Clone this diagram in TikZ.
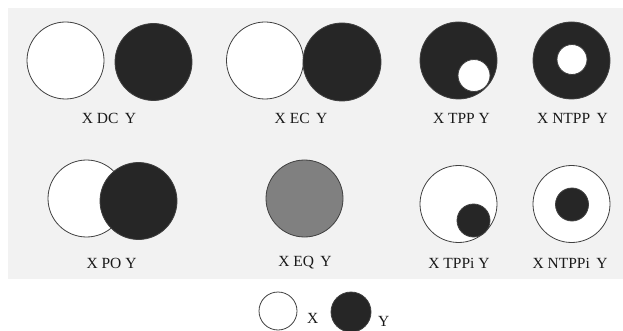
\documentclass[tikz,border=0pt]{standalone}
\usepackage{fontspec}
\setmainfont{Liberation Serif}
\begin{document}
\begin{tikzpicture}[x=1pt,y=-1pt,
  region/.style={circle,draw=black!75,line width=0.8pt,inner sep=0pt,minimum size=#1},
  regionX/.style={region=#1,fill=white},
  regionY/.style={region=#1,fill=black!85},
  regionEq/.style={region=#1,fill=black!50},
  lbl/.style={font=\fontsize{15.5}{17}\selectfont,inner sep=0pt,text=black!90}]
\useasboundingbox (0,0) rectangle (623,331);
\fill[black!5] (8,8) rectangle (623,279);

% row 1
\node[regionX=77] (dcx) at (65.5,60.5) {};
\node[regionY=77] (dcy) at (153.5,62) {};
\node[lbl] (dcl) at (109,118) {X DC\, Y};

\node[regionX=77] (ecx) at (265,60.5) {};
\node[regionY=78] (ecy) at (342,62) {};
\node[lbl] (ecl) at (301,118) {X EC\, Y};

\node[regionY=77] (tppy) at (458.5,60.5) {};
\node[regionX=32] (tppx) at (474,75.5) {};
\node[lbl] (tppl) at (461.5,118) {X TPP Y};

\node[regionY=77] (ntppy) at (571.5,60.5) {};
\node[regionX=30] (ntppx) at (572,59.5) {};
\node[lbl] (ntppl) at (572.5,118) {X NTPP\, Y};

% row 2
\node[regionX=77] (pox) at (86.5,198.5) {};
\node[regionY=77] (poy) at (138.5,201) {};
\node[lbl] (pol) at (111.5,263) {X PO Y};

\node[regionEq=77] (eq) at (304.5,198.5) {};
\node[lbl] (eql) at (305,263) {X EQ\, Y};

\node[regionX=77] (tppix) at (458.5,204) {};
\node[regionY=33] (tppiy) at (473.5,220.5) {};
\node[lbl] (tppil) at (459,263) {X TPPi Y};

\node[regionX=77] (ntppix) at (571.5,204) {};
\node[regionY=33] (ntppiy) at (572,204.5) {};
\node[lbl] (ntppil) at (570,263) {X NTPPi\, Y};

% legend
\node[regionX=38] (legx) at (278,311) {};
\node[lbl,anchor=west] (legxl) at (307,318) {X};
\node[regionY=40] (legy) at (351,312) {};
\node[lbl,anchor=west] (legyl) at (378,321) {Y};
\end{tikzpicture}
\end{document}
